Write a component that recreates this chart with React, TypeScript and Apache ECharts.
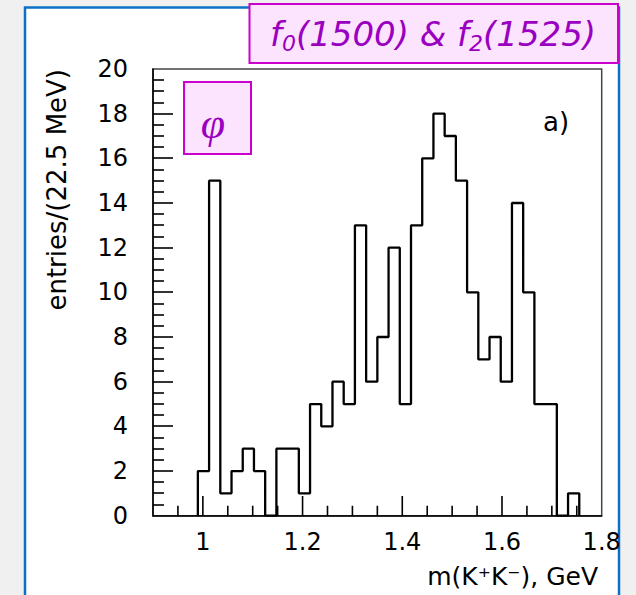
import React, { useEffect, useRef } from "react";
import * as echarts from "echarts";

// Histogram: entries per 22.5 MeV bin, first bin starts at 0.99 GeV
const binStart = 0.99;
const binWidth = 0.0225;
const counts = [2, 15, 1, 2, 3, 2, 0, 3, 3, 1, 5, 4, 6, 5, 13, 6, 8, 12, 5, 13, 16, 18, 17, 15, 10, 7, 8, 6, 14, 10, 5, 5, 0, 1];

const xTickLabels = [1, 1.2, 1.4, 1.6, 1.8];
const yTickLabels = [0, 2, 4, 6, 8, 10, 12, 14, 16, 18, 20];

const yTitle = "entries/(22.5 MeV)";
const xTitle = "m(K\u207AK\u207B), GeV";
const corner = "a)";
const phiLabel = "\u03C6";

const FONT = "'DejaVu Sans', sans-serif";

const X_MIN = 0.9;
const X_MAX = 1.8;
const Y_MIN = 0;
const Y_MAX = 20;

export default function App() {
  const ref = useRef<HTMLDivElement>(null);
  useEffect(() => {
    if (!ref.current) return;
    const chart = echarts.init(ref.current, undefined, { renderer: "svg" });

    const outline: number[][] = [[binStart, 0]];
    counts.forEach((c, i) => {
      const l = binStart + i * binWidth;
      const r = binStart + (i + 1) * binWidth;
      outline.push([l, c], [r, c]);
    });
    outline.push([binStart + counts.length * binWidth, 0]);

    // x-axis tick marks as short broken line segments (heights in y units)
    const xTickSegs: any[] = [];
    for (let k = 19; k <= 35; k++) {
      const v = +(k * 0.05).toFixed(2);
      const major = xTickLabels.some((t) => Math.abs(t - v) < 1e-6);
      xTickSegs.push([v, Y_MIN], [v, major ? 0.88 : 0.45], ["-", "-"]);
    }
    const yTicks: number[][] = [];
    for (let k = 1; k < 40; k++) {
      const v = k * 0.5;
      yTicks.push([v, k % 4 === 0 ? 20 : 11]);
    }

    const baseGraphic: any[] = [
      {
        type: "rect",
        id: "panel",
        z: -10,
        silent: true,
        shape: { x: 25, y: 7.5, width: 594, height: 640 },
        style: { fill: "#ffffff", stroke: "#0a70c8", lineWidth: 2.5 },
      },
      {
        type: "rect",
        id: "titleBox",
        z: 50,
        silent: true,
        shape: { x: 249.5, y: 4, width: 368.5, height: 59 },
        style: { fill: "#fde4fe", stroke: "#cc00cc", lineWidth: 2 },
      },
      {
        type: "text",
        id: "titleText",
        z: 51,
        silent: true,
        x: 433,
        y: 34,
        style: {
          text: "{m|f}{s|0}{m|(1500) & }{m|f}{s|2}{m|(1525)}",
          align: "center",
          verticalAlign: "middle",
          fill: "#9900c0",
          rich: {
            m: { fontSize: 34, fontStyle: "italic", fontFamily: FONT, fill: "#9900c0", lineHeight: 40 },
            s: { fontSize: 22, fontStyle: "italic", fontFamily: FONT, fill: "#9900c0", lineHeight: 20, verticalAlign: "bottom" },
          },
        },
      },
      {
        type: "rect",
        id: "phiBox",
        z: 50,
        silent: true,
        shape: { x: 184, y: 82, width: 67, height: 72 },
        style: { fill: "#fde4fe", stroke: "#cc00cc", lineWidth: 2 },
      },
      {
        type: "text",
        id: "phiText",
        z: 51,
        silent: true,
        x: 213,
        y: 123,
        style: {
          text: phiLabel,
          align: "center",
          verticalAlign: "middle",
          fill: "#9900c0",
          font: "italic 44px 'Liberation Serif', serif",
        },
      },
      {
        type: "text",
        id: "corner",
        z: 51,
        silent: true,
        x: 543,
        y: 122,
        style: {
          text: corner,
          align: "left",
          verticalAlign: "middle",
          fill: "#000",
          font: "26px " + FONT,
        },
      },
      {
        type: "text",
        id: "yTitle",
        z: 51,
        silent: true,
        x: 57,
        y: 69,
        rotation: Math.PI / 2,
        style: {
          text: yTitle,
          align: "right",
          verticalAlign: "middle",
          fill: "#000",
          font: "26px " + FONT,
        },
      },
      {
        type: "text",
        id: "xTitle",
        z: 51,
        silent: true,
        x: 598,
        y: 576,
        style: {
          text: xTitle,
          align: "right",
          verticalAlign: "middle",
          fill: "#000",
          font: "25px " + FONT,
        },
      },
    ];

    const option: any = {
      animation: false,
      backgroundColor: "#f0f0f0",
      grid: {
        left: 153,
        top: 69,
        right: 34.3,
        bottom: 79.3,
        show: true,
        borderColor: "#444",
        borderWidth: 1.5,
        backgroundColor: "transparent",
        containLabel: false,
        outerBoundsMode: "none",
      },
      xAxis: {
        type: "value",
        min: X_MIN,
        max: X_MAX,
        interval: 0.05,
        axisLine: { show: true, onZero: false, lineStyle: { color: "#000", width: 1.5 } },
        axisTick: { show: false },
        axisLabel: {
          show: true,
          customValues: xTickLabels,
          formatter: (v: number) => String(+v.toFixed(1)),
          color: "#000",
          fontSize: 24,
          fontFamily: FONT,
          margin: 14,
        },
        splitLine: { show: false },
      },
      yAxis: {
        type: "value",
        min: Y_MIN,
        max: Y_MAX,
        interval: 2,
        axisLine: { show: true, lineStyle: { color: "#000", width: 1.5 } },
        axisTick: { show: false },
        axisLabel: {
          color: "#000",
          fontSize: 24,
          fontFamily: FONT,
          margin: 25,
          customValues: yTickLabels,
        },
        splitLine: { show: false },
      },
      series: [
        {
          type: "line",
          data: outline,
          showSymbol: false,
          symbol: "none",
          lineStyle: { color: "#000", width: 2.3 },
          z: 5,
          silent: true,
        },
        {
          type: "line",
          data: xTickSegs,
          connectNulls: false,
          showSymbol: false,
          symbol: "none",
          clip: false,
          lineStyle: { color: "#000", width: 1.6 },
          z: 6,
          silent: true,
        },
      ],
      graphic: { elements: baseGraphic },
    };
    chart.setOption(option);

    // y-axis ticks placed through the axis scale
    const tickEls: any[] = [];
    yTicks.forEach((t, i) => {
      const p = chart.convertToPixel({ gridIndex: 0 }, [X_MIN, t[0]]) as number[];
      tickEls.push({
        type: "rect",
        id: "ytick" + i,
        z: 60,
        silent: true,
        shape: { x: p[0], y: Math.round(p[1]) - 0.8, width: t[1], height: 1.6 },
        style: { fill: "#000" },
      });
    });
    chart.setOption({ graphic: { elements: baseGraphic.concat(tickEls) } });

    return () => chart.dispose();
  }, []);
  return (
    <div
      ref={ref}
      style={{ position: "fixed", left: 0, top: 0, width: 636, height: 595 }}
    />
  );
}
